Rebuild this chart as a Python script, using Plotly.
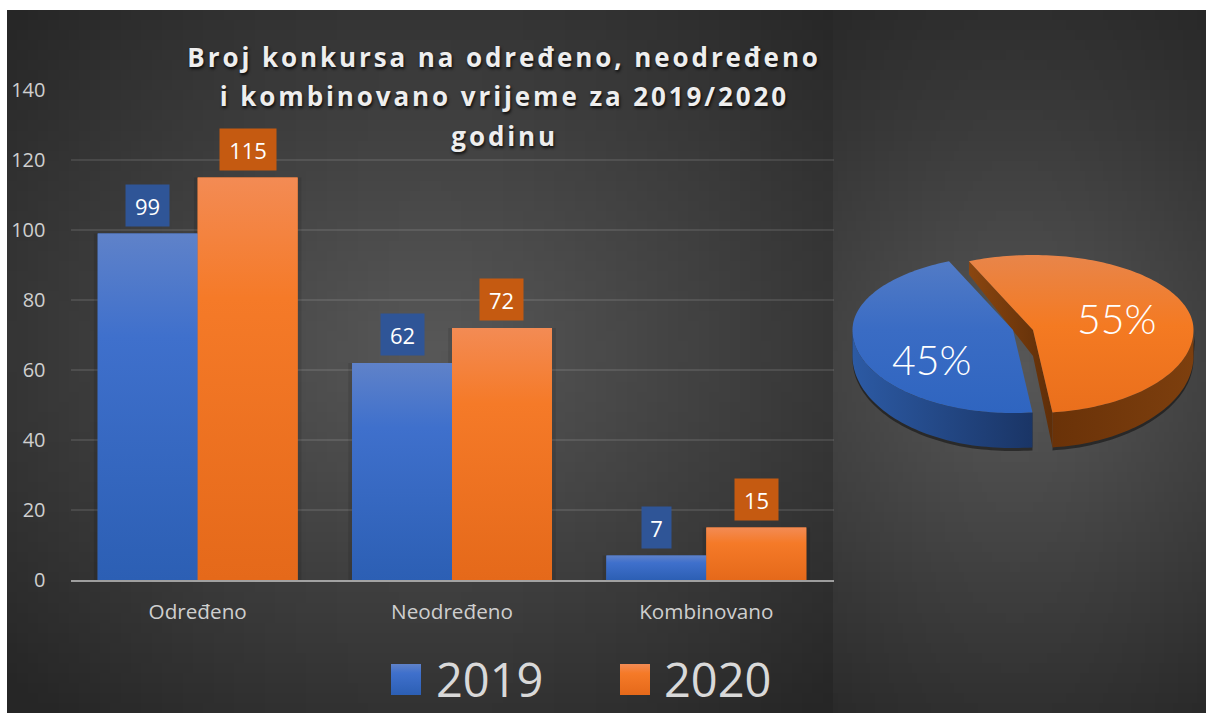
import numpy as np
import plotly.graph_objects as go

# ---- data
categories = ["Određeno", "Neodređeno", "Kombinovano"]
values_2019 = [99, 62, 7]
values_2020 = [115, 72, 15]
pie_labels = ["2019", "2020"]
pie_totals = [sum(values_2019), sum(values_2020)]
y_ticks = [0, 20, 40, 60, 80, 100, 120, 140]
title_lines = ["Broj konkursa na određeno, neodređeno",
               "i kombinovano vrijeme za 2019/2020",
               "godinu"]

# ---- style
W, H = 1206, 713
BAR_W = 0.393
BLUE_SCALE = [[0, "#2c5fb4"], [0.7, "#3f70cc"], [1, "#5f82c9"]]
ORANGE_SCALE = [[0, "#e5691a"], [0.7, "#f57a28"], [1, "#f38b54"]]
LABEL_W = {1: 29, 2: 43, 3: 56}
FONT = "Open Sans"

fig = go.Figure()

# ---- background panels (pixel axes x/y)
def panel(x0, x1, y0, y1, cx, cy, a, b):
    xe = np.linspace(x0, x1, 81)
    ye = np.linspace(y0, y1, 71)
    xc, yc = (xe[1:] + xe[:-1]) / 2, (ye[1:] + ye[:-1]) / 2
    X, Y = np.meshgrid(xc, yc)
    t = np.clip(np.sqrt(((X - cx) / a) ** 2 + ((Y - cy) / b) ** 2), 0, 1)
    return go.Heatmap(x=xe, y=ye, z=1 - t, zmin=0, zmax=1, showscale=False,
                      hoverinfo="skip", xaxis="x", yaxis="y",
                      colorscale=[[0, "#262626"], [1, "#585858"]])

fig.add_trace(panel(7, 833, 10, 713, 430, 350, 590, 470))
fig.add_trace(panel(833, 1206, 10, 713, 1015, 370, 420, 420))

# ---- bars
cat_pos = np.arange(len(categories))
for name, vals, off, col, scale in [("2019", values_2019, -BAR_W / 2, "#3f70cc", BLUE_SCALE),
                                    ("2020", values_2020, BAR_W / 2, "#f57a28", ORANGE_SCALE)]:
    fig.add_trace(go.Bar(x=cat_pos + off, y=vals, width=BAR_W + 0.03, xaxis="x2", yaxis="y2",
                         marker=dict(color="rgba(0,0,0,0.10)", line_width=0),
                         showlegend=False, hoverinfo="skip"))
for name, vals, off, col, scale in [("2019", values_2019, -BAR_W / 2, "#3f70cc", BLUE_SCALE),
                                    ("2020", values_2020, BAR_W / 2, "#f57a28", ORANGE_SCALE)]:
    fig.add_trace(go.Bar(name=name, x=cat_pos + off, y=vals, width=BAR_W, xaxis="x2", yaxis="y2",
                         marker=dict(color=col, line_width=0), showlegend=False))
    # vertical gradient laid over each bar
    for p, v in zip(cat_pos, vals):
        xl, xr = p + off - BAR_W / 2, p + off + BAR_W / 2
        fig.add_trace(go.Scatter(x=[xl, xr, xr, xl, xl], y=[0, 0, v, v, 0], mode="none", fill="toself",
                                 fillgradient=dict(type="vertical", colorscale=scale, start=0, stop=v),
                                 xaxis="x2", yaxis="y2", showlegend=False, hoverinfo="skip"))
fig.update_layout(barmode="overlay")

# ---- 3D pie (pixel axes x3/y3); slice angles come from the yearly totals
RX, RY_BACK, RY_FRONT = 160.5, 75, 83
START = 113.5
def rim(cx, cy, deg):
    th = np.radians(deg)
    s = np.sin(th)
    return cx + RX * np.cos(th), cy - np.where(s > 0, RY_BACK, RY_FRONT) * s
def depth(y):
    return np.interp(y, [260, 330, 410], [13, 26, 35])
def poly(x, y, scale, kind):
    fig.add_trace(go.Scatter(x=x, y=y, mode="none", fill="toself", xaxis="x3", yaxis="y3",
                             fillgradient=dict(type=kind, colorscale=scale),
                             showlegend=False, hoverinfo="skip"))

total = sum(pie_totals)
blue_sweep = pie_totals[0] / total * 360
or_sweep = pie_totals[1] / total * 360
BC, OC = (1013.0, 330.0), (1033.0, 330.0)

b_th = np.linspace(START, START + blue_sweep, 120)
bx, by = rim(*BC, b_th)
o_th = np.linspace(START, START - or_sweep, 140)
ox, oy = rim(*OC, o_th)

# soft shadow beneath the walls
s_th = np.linspace(180, START + blue_sweep, 60)
sx, sy = rim(*BC, s_th)
fig.add_trace(go.Scatter(x=np.r_[sx, sx[::-1]], y=np.r_[sy, (sy + depth(sy) + 3)[::-1]], mode="none",
                         fill="toself", fillcolor="rgba(0,0,0,0.45)", xaxis="x3", yaxis="y3",
                         showlegend=False, hoverinfo="skip"))
s2 = np.linspace(0, START - or_sweep, 60)
sx2, sy2 = rim(*OC, s2)
fig.add_trace(go.Scatter(x=np.r_[sx2 + 2, sx2[::-1]], y=np.r_[sy2, (sy2 + depth(sy2) + 3)[::-1]], mode="none",
                         fill="toself", fillcolor="rgba(0,0,0,0.45)", xaxis="x3", yaxis="y3",
                         showlegend=False, hoverinfo="skip"))

poly(np.r_[sx, sx[::-1]], np.r_[sy, (sy + depth(sy))[::-1]],
     [[0, "#2c5aa4"], [1, "#1a3566"]], "horizontal")
wx = np.array([ox[0], OC[0], ox[-1]])
wy = np.array([oy[0], OC[1], oy[-1]])
poly(np.r_[wx, wx[::-1]], np.r_[wy, (wy + depth(wy))[::-1]],
     [[0, "#8a4610"], [1, "#5f2e08"]], "horizontal")
poly(np.r_[sx2, sx2[::-1]], np.r_[sy2, (sy2 + depth(sy2))[::-1]],
     [[0, "#6a3208"], [1, "#7d3f0e"]], "horizontal")
poly(np.r_[BC[0], bx, BC[0]], np.r_[BC[1], by, BC[1]],
     [[0, "#2f65c0"], [0.55, "#3a6cc4"], [1, "#527bc6"]], "vertical")
poly(np.r_[OC[0], ox, OC[0]], np.r_[OC[1], oy, OC[1]],
     [[0, "#ea6f1c"], [0.55, "#f47a22"], [1, "#e8854a"]], "vertical")

# ---- legend swatches
for x0, scale in [(391, BLUE_SCALE), (620, ORANGE_SCALE)]:
    poly([x0, x0 + 30, x0 + 30, x0, x0], [664, 664, 695, 695, 664], scale, "vertical")

# ---- text
ann = []
for i, line in enumerate(title_lines):
    ann.append(dict(x=504, y=[57, 96, 136][i], xref="x3", yref="y3", text=f"<b>{line}</b>",
                    showarrow=False, xanchor="center", yanchor="middle",
                    font=dict(family=FONT, size=26, color="#eeeeee", shadow="1px 2px 3px rgba(0,0,0,0.8)")))
for vals, off, bg in [(values_2019, -BAR_W / 2, "#2f5597"), (values_2020, BAR_W / 2, "#c55a11")]:
    for p, v in zip(cat_pos, vals):
        ann.append(dict(x=p + off, y=v, xref="x2", yref="y2", text=str(v), showarrow=False,
                        xanchor="center", yanchor="bottom", yshift=7, width=LABEL_W[len(str(v))], height=41,
                        bgcolor=bg, borderpad=0, valign="middle", align="center",
                        font=dict(family=FONT, size=22, color="#ffffff")))
for t, x, y in [(pie_totals[0], 932, 359), (pie_totals[1], 1117, 318)]:
    ann.append(dict(x=x, y=y, xref="x3", yref="y3", text=f"{round(100 * t / total)}%", showarrow=False,
                    font=dict(family="Lato", size=41, weight=300, color="#ffffff")))
for name, x in [(pie_labels[0], 434), (pie_labels[1], 662)]:
    ann.append(dict(x=x, y=679, xref="x3", yref="y3", text=name, showarrow=False, xanchor="left", yanchor="middle",
                    font=dict(family=FONT, size=47, color="#d9d9d9")))

hidden = dict(visible=False, fixedrange=True)
fig.update_layout(
    width=W, height=H, autosize=False, margin=dict(l=0, r=0, t=0, b=0, pad=0, autoexpand=False),
    paper_bgcolor="white", plot_bgcolor="rgba(0,0,0,0)", showlegend=False,
    xaxis=dict(domain=[0, 1], range=[0, W], **hidden),
    yaxis=dict(domain=[0, 1], range=[H, 0], **hidden),
    xaxis2=dict(domain=[70.5 / W, 833.5 / W], range=[-0.5, 2.5], anchor="y2", tickvals=list(cat_pos), ticktext=categories,
                showgrid=False, zeroline=False, showline=True, linecolor="rgba(217,217,217,0.65)", linewidth=2,
                ticks="outside", ticklen=12, tickcolor="rgba(0,0,0,0)", tickfont=dict(family=FONT, size=20.7, color="#cfcfcf")),
    yaxis2=dict(domain=[(H - 580) / H, (H - 90) / H], range=[0, 140], anchor="x2", tickvals=y_ticks,
                showgrid=True, gridcolor="rgba(255,255,255,0.10)", gridwidth=2, zeroline=False, showline=False,
                ticks="outside", ticklen=20, tickcolor="rgba(0,0,0,0)", tickfont=dict(family=FONT, size=20, color="#cfcfcf")),
    xaxis3=dict(domain=[0, 1], range=[0, W], anchor="y3", **hidden),
    yaxis3=dict(domain=[0, 1], range=[H, 0], anchor="x3", **hidden),
    annotations=ann,
)

post = """
document.documentElement.style.margin = '0';
document.body.style.margin = '0';
document.querySelectorAll('.annotation-text').forEach(function(t){
  if (t.textContent.length > 5) { t.style.letterSpacing = '2.9px'; }
});
"""
fig.write_html("out.html", post_script=post, config={"displayModeBar": False})
